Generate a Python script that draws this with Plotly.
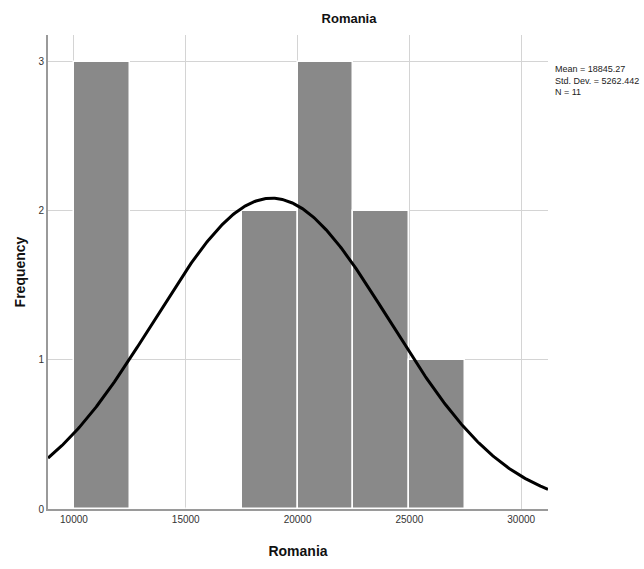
import numpy as np
import plotly.graph_objects as go

# Data
bin_starts = [10000, 12500, 15000, 17500, 20000, 22500, 25000]
counts = [3, 0, 0, 2, 3, 2, 1]
bin_width = 2500
mean_val = 18845.27
std_val = 5262.442
n_val = 11
x_ticks = [10000, 15000, 20000, 25000, 30000]
y_ticks = [0, 1, 2, 3]

x_range = [8840, 31200]
y_range = [0, 3.18]

centers = [b + bin_width / 2 for b in bin_starts]
xs = np.linspace(x_range[0], x_range[1], 400)
curve = n_val * bin_width / (std_val * np.sqrt(2 * np.pi)) * np.exp(-0.5 * ((xs - mean_val) / std_val) ** 2)

fig = go.Figure()
fig.add_trace(go.Bar(x=centers, y=counts, width=[bin_width] * len(centers),
                     marker=dict(color="#898989", line=dict(color="white", width=1.5)),
                     showlegend=False))
fig.add_trace(go.Scatter(x=xs, y=curve, mode="lines", line=dict(color="black", width=3),
                         showlegend=False))

fig.update_layout(
    width=644, height=569,
    margin=dict(l=48, r=96, t=35, b=60),
    plot_bgcolor="white", paper_bgcolor="white",
    font=dict(family="Liberation Sans, Arial, sans-serif", color="#222"),
    bargap=0,
    title=dict(text="<b>Romania</b>", x=349 / 644, xanchor="center", y=1 - 18 / 569, yanchor="middle",
               font=dict(size=13, color="#111")),
    xaxis=dict(range=x_range, tickvals=x_ticks, ticktext=[str(t) for t in x_ticks],
               showgrid=True, gridcolor="#d4d4d4", gridwidth=1,
               showline=True, linecolor="#9a9a9a", linewidth=2, zeroline=False,
               ticks="", tickfont=dict(size=10, color="#333"),
               title=dict(text="<b>Romania</b>", font=dict(size=14, color="#111"), standoff=22)),
    yaxis=dict(range=y_range, tickvals=y_ticks, ticktext=[str(t) for t in y_ticks],
               showgrid=True, gridcolor="#d4d4d4", gridwidth=1,
               showline=True, linecolor="#9a9a9a", linewidth=2, zeroline=False,
               ticks="", tickfont=dict(size=10, color="#333"),
               title=dict(text="<b>Frequency</b>", font=dict(size=14, color="#111"), standoff=10)),
)

fig.add_annotation(xref="paper", yref="paper", x=(553 - 48) / 500, y=(509 - 62) / 474,
                   xanchor="left", yanchor="top", showarrow=False, align="left",
                   text=f"Mean = {mean_val}<br>Std. Dev. = {std_val}<br>N = {n_val}",
                   font=dict(size=9, color="#222", family="Liberation Sans, Arial"))

fig.write_html("out.html")
